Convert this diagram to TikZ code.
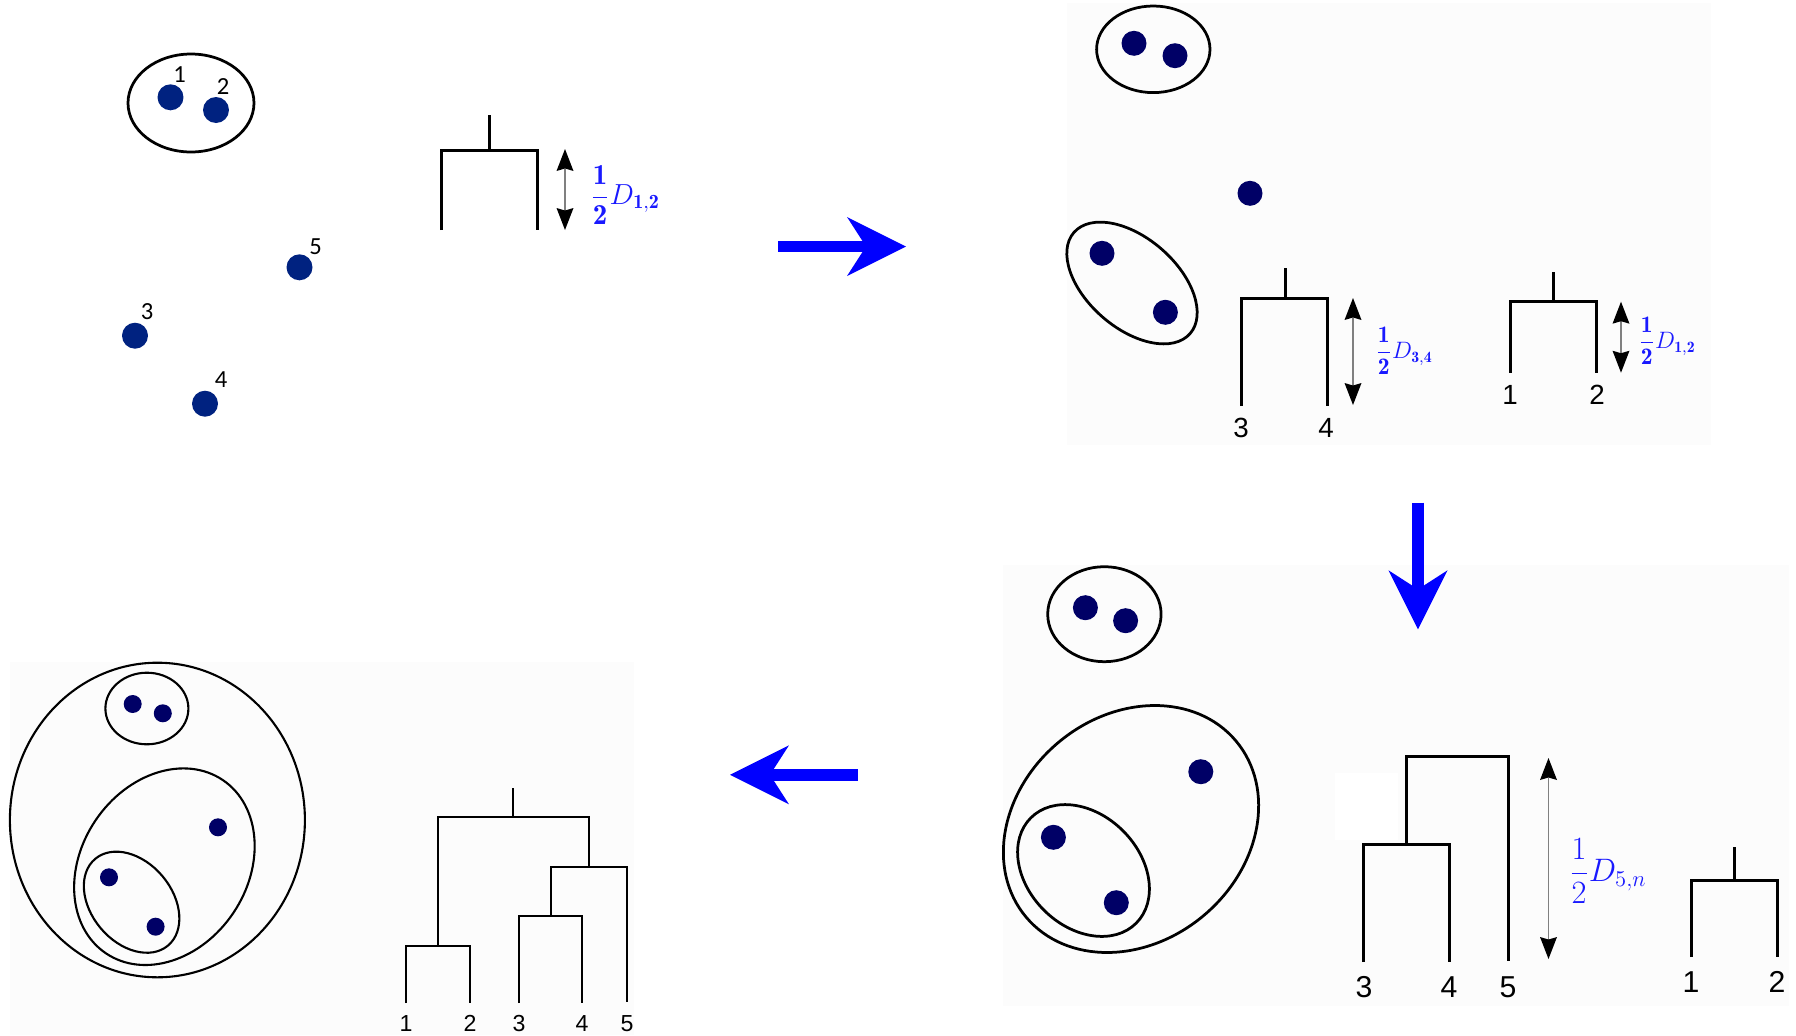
\documentclass[tikz,border=0pt]{standalone}
\usepackage{amsmath}
\usepackage{fontspec}
\newfontfamily\calib{Carlito}
\newfontfamily\arialf{Liberation Sans}
\usetikzlibrary{arrows.meta}
\definecolor{panelgray}{RGB}{252,252,252}
\definecolor{navyA}{RGB}{0,34,128}
\definecolor{navyB}{RGB}{0,0,102}
\definecolor{flowblue}{RGB}{0,0,255}
\definecolor{fracblue}{RGB}{25,25,255}
\tikzset{
  dotA/.style={circle,fill=navyA,inner sep=0pt,minimum size=0.52cm},
  dotB/.style={circle,fill=navyB,inner sep=0pt,minimum size=0.5cm},
  dotS/.style={circle,fill=navyB,inner sep=0pt,minimum size=0.36cm},
  clus/.style={draw=black,line width=0.055cm},
  clusthin/.style={draw=black,line width=0.042cm},
  dend/.style={draw=black,line width=0.06cm},
  dendthin/.style={draw=black,line width=0.04cm},
  ptlabel/.style={inner sep=0pt,font=\calib\fontsize{14}{14}\selectfont},
  leafA/.style={inner sep=0pt,font=\arialf\fontsize{15.8}{16}\selectfont},
  leafB/.style={inner sep=0pt,font=\arialf\fontsize{17.2}{18}\selectfont},
  leafC/.style={inner sep=0pt,font=\arialf\fontsize{13.2}{14}\selectfont},
  fraclbl/.style={inner sep=0pt,anchor=west,text=fracblue,transform shape},
  dimarrow/.style={draw=gray,line width=0.025cm,
    {Stealth[length=0.44cm,width=0.34cm,inset=0.05cm,color=black,line width=0pt]}-{Stealth[length=0.44cm,width=0.34cm,inset=0.05cm,color=black,line width=0pt]}},
  flow/.style={draw=flowblue,line width=0.235cm,
    -{Stealth[length=1.18cm,width=1.18cm,inset=0.38cm,line width=0pt]}},
  panel/.style={fill=panelgray,draw=none},
}
\begin{document}
\begin{tikzpicture}[x=0.02cm,y=0.02cm]
\useasboundingbox (0,0) rectangle (1796,-1035);
\fill[white] (0,0) rectangle (1796,-1035);
% panels
\fill[panel] (1067,-3) rectangle (1711,-445);
\fill[panel] (1003,-565) rectangle (1789,-1006);
\fill[white] (1335,-773) rectangle (1398,-840);
\fill[panel] (10,-662) rectangle (634,-1035);

% ===== Panel 1 =====
\draw[clus] (191,-103) ellipse [x radius=63, y radius=49];
\node[dotA] (p1d1) at (170.5,-97.3) {};
\node[dotA] (p1d2) at (216,-110) {};
\node[dotA] (p1d5) at (299.5,-267.3) {};
\node[dotA] (p1d3) at (135,-335.7) {};
\node[dotA] (p1d4) at (205,-403.7) {};
\node[ptlabel] (p1l1) at (179.5,-75) {1};
\node[ptlabel] (p1l2) at (223,-87) {2};
\node[ptlabel] (p1l5) at (315.6,-246.7) {5};
\node[ptlabel] (p1l3) at (147,-312) {3};
\node[ptlabel] (p1l4) at (221,-380) {4};
\coordinate (p1a) at (441,-230);
\coordinate (p1b) at (537.5,-230);
\coordinate (p1m) at (489,-150);
\coordinate (p1s) at (489,-115);
\draw[dend] (p1a) |- (p1m) -| (p1b);
\draw[dend] (p1m) -- (p1s);
\coordinate (p1u) at (565,-149);
\coordinate (p1v) at (565,-230);
\draw[dimarrow] (p1u) -- (p1v);
\node[fraclbl,scale=1.146,font=\fontsize{14.4}{16}\selectfont] (p1f) at (590,-195) {$\dfrac{\mathbf{1}}{\mathbf{2}}D_{\mathbf{1,2}}$};

% flow arrow 1
\coordinate (f1s) at (778,-246.5);
\coordinate (f1e) at (906,-246.5);
\draw[flow] (f1s) -- (f1e);

% ===== Panel 2 =====
\draw[clus] (1153.3,-49.3) ellipse [x radius=56.7, y radius=43.3];
\node[dotB] (p2d1) at (1134,-43.3) {};
\node[dotB] (p2d2) at (1175,-55.7) {};
\node[dotB] (p2d5) at (1250,-193.3) {};
\node[dotB] (p2d3) at (1102,-253.3) {};
\node[dotB] (p2d4) at (1165.4,-312.3) {};
\draw[clus,rotate around={-41:(1132,-283)}] (1132,-283) ellipse [x radius=77, y radius=45];
% dendrogram 3,4
\coordinate (p2a) at (1241.3,-406);
\coordinate (p2b) at (1327,-406);
\coordinate (p2m) at (1285,-298.5);
\coordinate (p2s) at (1285,-268.3);
\draw[dend] (p2a) |- (p2m) -| (p2b);
\draw[dend] (p2m) -- (p2s);
\node[leafA] (p2l3) at (1241,-428) {3};
\node[leafA] (p2l4) at (1326,-428) {4};
\coordinate (p2u) at (1353,-298);
\coordinate (p2v) at (1353,-405);
\draw[dimarrow] (p2u) -- (p2v);
\node[fraclbl,scale=1.125,font=\fontsize{12}{14}\selectfont] (p2f) at (1375,-351) {$\dfrac{\mathbf{1}}{\mathbf{2}}D_{\mathbf{3,4}}$};
% dendrogram 1,2
\coordinate (p2c) at (1510,-372.7);
\coordinate (p2d) at (1596.6,-372.7);
\coordinate (p2n) at (1553,-301.7);
\coordinate (p2t) at (1553,-272.3);
\draw[dend] (p2c) |- (p2n) -| (p2d);
\draw[dend] (p2n) -- (p2t);
\node[leafA] (p2l1) at (1510,-395) {1};
\node[leafA] (p2l2) at (1597,-395) {2};
\coordinate (p2w) at (1621,-301.7);
\coordinate (p2x) at (1621,-372.7);
\draw[dimarrow] (p2w) -- (p2x);
\node[fraclbl,scale=1.125,font=\fontsize{12}{14}\selectfont] (p2g) at (1638,-341) {$\dfrac{\mathbf{1}}{\mathbf{2}}D_{\mathbf{1,2}}$};

% flow arrow 2
\coordinate (f2s) at (1418,-502.7);
\coordinate (f2e) at (1418,-629.3);
\draw[flow] (f2s) -- (f2e);

% ===== Panel 3 =====
\draw[clus] (1104.4,-614.2) ellipse [x radius=56.7, y radius=47.5];
\node[dotB] (p3d1) at (1085.4,-607.7) {};
\node[dotB] (p3d2) at (1125.6,-620.7) {};
\node[dotB] (p3d5) at (1200.8,-771.7) {};
\node[dotB] (p3d3) at (1053.4,-837.3) {};
\node[dotB] (p3d4) at (1116.3,-902.7) {};
\draw[clus,rotate around={40:(1131,-829)}] (1131,-829) ellipse [x radius=137, y radius=113];
\draw[clus,rotate around={-45:(1083.5,-870.5)}] (1083.5,-870.5) ellipse [x radius=74.5, y radius=56];
% dendrogram 3,4,5
\coordinate (p3a) at (1363.5,-962);
\coordinate (p3b) at (1449.5,-962);
\coordinate (p3m) at (1406.5,-844.5);
\coordinate (p3c) at (1508.5,-756.5);
\coordinate (p3e) at (1508.5,-960.5);
\draw[dend] (p3a) |- (p3m) -| (p3b);
\draw[dend] (p3m) |- (p3c) -- (p3e);
\node[leafB] (p3l3) at (1364,-987) {3};
\node[leafB] (p3l4) at (1449,-987) {4};
\node[leafB] (p3l5) at (1508,-987) {5};
\coordinate (p3u) at (1548.5,-758);
\coordinate (p3v) at (1548.5,-959);
\draw[dimarrow] (p3u) -- (p3v);
\node[fraclbl,scale=1.07,font=\fontsize{17.28}{20}\selectfont] (p3f) at (1569,-871) {$\dfrac{1}{2}D_{5,n}$};
% dendrogram 1,2
\coordinate (p3g) at (1691,-957);
\coordinate (p3h) at (1777,-957);
\coordinate (p3n) at (1734,-880);
\coordinate (p3t) at (1734,-847);
\draw[dend] (p3g) |- (p3n) -| (p3h);
\draw[dend] (p3n) -- (p3t);
\node[leafB] (p3l1) at (1691,-982) {1};
\node[leafB] (p3l2) at (1777,-982) {2};

% flow arrow 3
\coordinate (f3s) at (857.7,-774.8);
\coordinate (f3e) at (730,-774.8);
\draw[flow] (f3s) -- (f3e);

% ===== Panel 4 =====
\draw[clusthin] (157.4,-820) ellipse [x radius=147.5, y radius=157.3];
\draw[clusthin] (146.9,-708.5) ellipse [x radius=41.5, y radius=35.8];
\draw[clusthin,rotate around={56:(164.4,-866.7)}] (164.4,-866.7) ellipse [x radius=104.5, y radius=83];
\draw[clusthin,rotate around={-50:(131.6,-902.2)}] (131.6,-902.2) ellipse [x radius=56.6, y radius=40.4];
\node[dotS] (p4d1) at (132.7,-704) {};
\node[dotS] (p4d2) at (162.8,-713.3) {};
\node[dotS] (p4d5) at (218,-827.3) {};
\node[dotS] (p4d3) at (109,-877.3) {};
\node[dotS] (p4d4) at (155.6,-926.7) {};
% dendrogram full
\coordinate (q1) at (406,-1003);
\coordinate (q2) at (470,-1003);
\coordinate (q3) at (519,-1003);
\coordinate (q4) at (582,-1003);
\coordinate (q5) at (627,-1002);
\coordinate (m12) at (438,-945.5);
\coordinate (m34) at (550.5,-916);
\coordinate (m345) at (589,-867);
\coordinate (mtop) at (513,-816.5);
\coordinate (mstem) at (513,-788);
\draw[dendthin] (q1) |- (m12) -| (q2);
\draw[dendthin] (q3) |- (m34) -| (q4);
\draw[dendthin] (m34) |- (m345) -| (q5);
\draw[dendthin] (m12) |- (mtop) -| (m345);
\draw[dendthin] (mtop) -- (mstem);
\node[leafC] (p4l1) at (406,-1023.5) {1};
\node[leafC] (p4l2) at (470,-1023.5) {2};
\node[leafC] (p4l3) at (519,-1023.5) {3};
\node[leafC] (p4l4) at (582,-1023.5) {4};
\node[leafC] (p4l5) at (627,-1023.5) {5};
\end{tikzpicture}
\end{document}
